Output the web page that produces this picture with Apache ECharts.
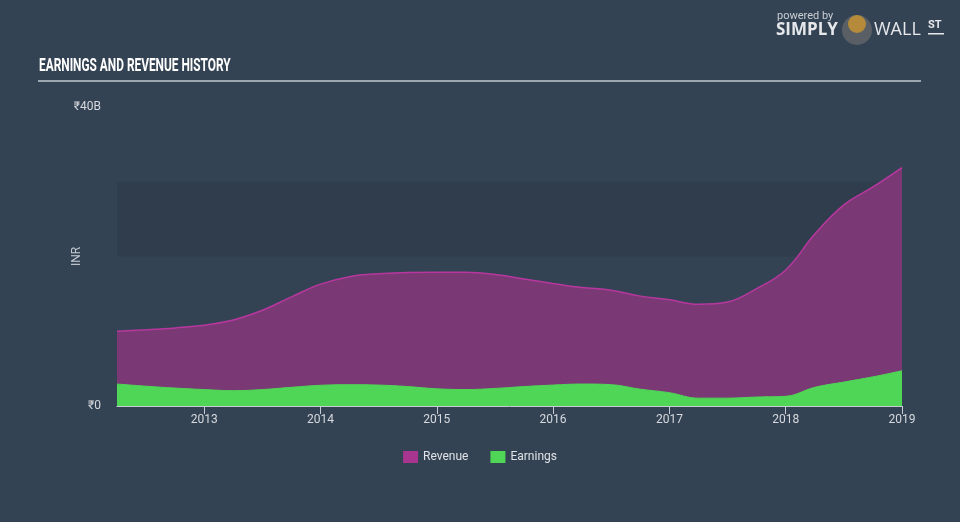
<!DOCTYPE html>
<html>
<head>
<meta charset="utf-8">
<script src="https://cdn.jsdelivr.net/npm/echarts@6/dist/echarts.min.js"></script>
<style>
html,body{margin:0;padding:0;background:#344354;}
#c{width:960px;height:522px;}
</style>
</head>
<body>
<div id="c"></div>
<script>
// Quarterly dates (decimal years)
const dates = [2012.25,2012.5,2012.75,2013.0,2013.25,2013.5,2013.75,2014.0,2014.25,2014.5,2014.75,2015.0,2015.25,2015.5,2015.75,2016.0,2016.25,2016.5,2016.75,2017.0,2017.25,2017.5,2017.75,2018.0,2018.25,2018.5,2018.75,2019.0];
// Values in billions INR
const revenue = [10.0,10.2,10.45,10.8,11.5,12.8,14.6,16.3,17.3,17.7,17.85,17.9,17.9,17.6,17.0,16.4,15.85,15.5,14.7,14.2,13.6,13.9,15.7,18.2,23.0,26.9,29.3,31.9];
const earnings = [2.94,2.65,2.4,2.2,2.05,2.2,2.5,2.77,2.85,2.8,2.6,2.3,2.2,2.35,2.6,2.8,2.94,2.85,2.25,1.78,1.05,1.05,1.2,1.3,2.5,3.2,3.9,4.72];
const yearTicks = [2013,2014,2015,2016,2017,2018,2019];
const yTicks = [0,40];
const band = [20,30];

const pair = (xs, ys) => xs.map((x,i)=>[x, ys[i]]);

const chart = echarts.init(document.getElementById('c'), null, {renderer:'canvas'});
chart.setOption({
  backgroundColor:'#344354',
  animation:false,
  grid:{left:117,right:58,top:107,bottom:116,containLabel:false},
  xAxis:{
    type:'value', min:dates[0], max:dates[dates.length-1],
    axisLine:{show:true,lineStyle:{color:'#c8ccd2',width:1}},
    axisTick:{show:true,customValues:yearTicks,length:8,lineStyle:{color:'#c8ccd2'}},
    axisLabel:{customValues:yearTicks,color:'#d6d9de',fontSize:12,fontFamily:'Roboto',margin:8,formatter:v=>String(Math.round(v))},
    splitLine:{show:false}
  },
  yAxis:{
    type:'value', min:yTicks[0], max:yTicks[1], interval:40,
    name:'INR', nameLocation:'middle', nameGap:34, nameRotate:90, nameMoveOverlap:false,
    nameTextStyle:{color:'#c8ccd2',fontSize:12,fontFamily:'Roboto'},
    axisLine:{show:false}, axisTick:{show:false},
    axisLabel:{color:'#d6d9de',fontSize:12,fontFamily:'Roboto',margin:16,formatter:v=>v===0?'₹0':'₹'+v+'B'},
    splitLine:{show:false}
  },
  legend:{
    bottom:54,left:'center',itemWidth:15,itemHeight:12,itemGap:22,
    icon:'rect',
    textStyle:{color:'#dfe2e6',fontSize:12,fontFamily:'Roboto'},
    data:['Revenue','Earnings']
  },
  series:[
    {
      name:'Revenue',type:'line',data:pair(dates,revenue),smooth:0.4,symbol:'none',
      lineStyle:{color:'#b8379f',width:1.5},
      itemStyle:{color:'#a8358f'},
      areaStyle:{color:'#7a3974',opacity:1},
      markArea:{silent:true,itemStyle:{color:'#2f3d4d'},data:[[{yAxis:band[0]},{yAxis:band[1]}]]},
      z:2
    },
    {
      name:'Earnings',type:'line',data:pair(dates,earnings),smooth:0.4,symbol:'none',
      lineStyle:{color:'#4fd656',width:1},
      itemStyle:{color:'#4fd656'},
      areaStyle:{color:'#4fd656',opacity:1},
      z:3
    }
  ],
  graphic:[
    {type:'text',x:39,y:57,scaleX:0.625,style:{text:'EARNINGS AND REVENUE HISTORY',fill:'#ffffff',font:'bold 19px Roboto, sans-serif'}},
    {type:'rect',shape:{x:38,y:80,width:883,height:2},style:{fill:'#9ea6b0'}},
    {type:'text',left:777,top:11,style:{text:'powered by',fill:'#c9ced4',font:'11px Roboto, sans-serif'}},
    {type:'text',left:776,top:22,style:{text:'SIMPLY',fill:'#e6e8eb',font:'bold 17px "Open Sans", Roboto, sans-serif'}},
    {type:'circle',shape:{cx:857,cy:30,r:15},style:{fill:'#5a5f66'}},
    {type:'circle',shape:{cx:857,cy:24,r:9},style:{fill:'#b58a3a'}},
    {type:'text',left:874,top:21,style:{text:'WALL',fill:'#e6e8eb',font:'18px "Open Sans", Roboto, sans-serif'}},
    {type:'text',left:928,top:20,style:{text:'ST',fill:'#e6e8eb',font:'bold 11px Roboto, sans-serif'}},
    {type:'rect',shape:{x:928,y:33,width:16,height:1.5},style:{fill:'#e6e8eb'}}
  ]
});
</script>
</body>
</html>
